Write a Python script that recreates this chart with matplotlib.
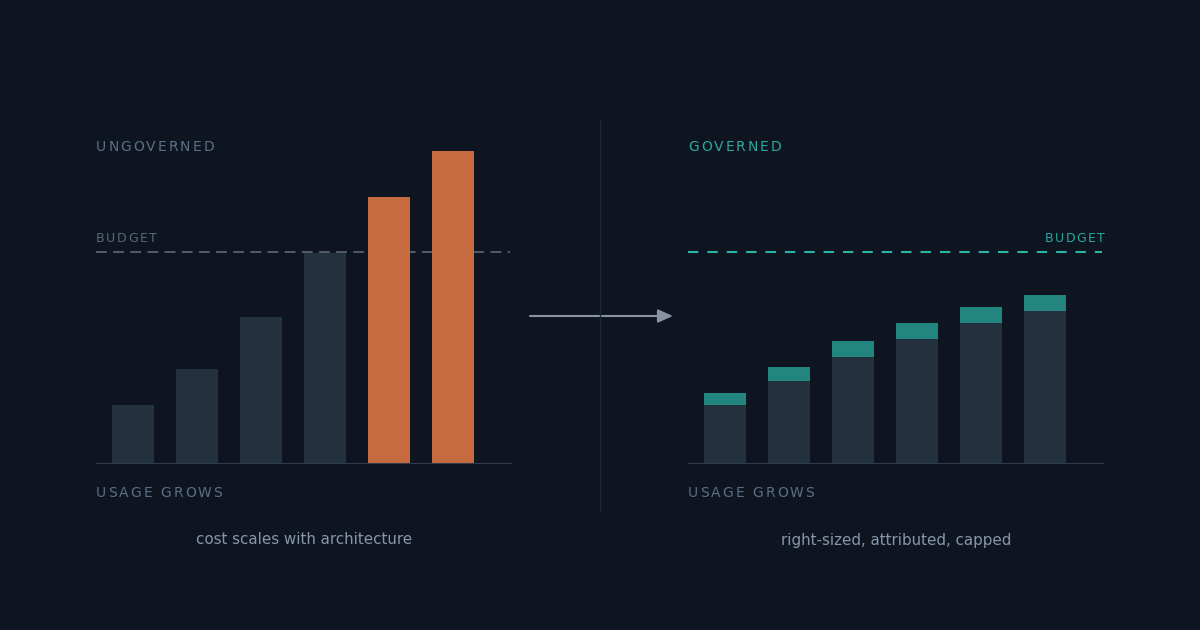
import matplotlib.pyplot as plt
from matplotlib.patches import FancyArrowPatch
from matplotlib.lines import Line2D
from matplotlib.font_manager import FontProperties, findfont, get_font

# data (cost units, one per usage step)
steps = [0, 1, 2, 3, 4, 5]
ungoverned = [59, 95, 147, 211, 267, 313]
over_budget = [False, False, False, False, True, True]
governed_base = [59, 83, 107, 125, 141, 153]
governed_cap = [12, 14, 16, 16, 16, 16]
budget = 212

BG = "#0e1520"
BAR = "#22313d"
ORANGE = "#c66a3f"
TEAL_BAR = "#22857f"
TEAL = "#2aa8a0"
GRAY_TXT = "#5a6f86"
AXIS = "#2e3d4e"

W, H = 1200, 630
fig = plt.figure(figsize=(12, 6.3), dpi=100, facecolor=BG)
font = get_font(findfont(FontProperties(family="DejaVu Sans")))


def spaced(x, y, s, size, color, spacing, ha="left"):
    # letter-spaced text, x/y in pixels from top-left
    font.set_size(size, 100)
    adv = [font.load_char(ord(ch)).linearHoriAdvance / 65536 for ch in s]
    total = sum(adv) + spacing * (len(s) - 1)
    cx = x if ha == "left" else x - total
    for ch, a in zip(s, adv):
        fig.text(cx / W, 1 - y / H, ch, fontsize=size, color=color,
                 va="center", ha="left")
        cx += a + spacing


def panel(left_px):
    ax = fig.add_axes([left_px / W, (H - 463.6) / H, 416 / W, 343 / H])
    ax.set_facecolor("none")
    ax.set_xlim(-37 / 64, -37 / 64 + 6.5)
    ax.set_ylim(0, 343)
    ax.axis("off")
    ax.axhline(0, color=AXIS, lw=1.5, zorder=5)
    return ax


# left: ungoverned
axl = panel(96)
cols = [ORANGE if o else BAR for o in over_budget]
axl.bar(steps, ungoverned, width=42 / 64, color=cols, zorder=3)
axl.add_line(Line2D([-37 / 64, -37 / 64 + 6.47], [budget, budget], color="#56626f",
                    lw=1.3, ls=(0, (6, 3.5)), zorder=2))

# right: governed
axr = panel(688)
axr.bar(steps, governed_base, width=42 / 64, color=BAR, zorder=3)
axr.bar(steps, governed_cap, bottom=governed_base, width=42 / 64, color=TEAL_BAR, zorder=3)
axr.add_line(Line2D([-37 / 64, -37 / 64 + 6.47], [budget, budget], color="#2bb3a6",
                    lw=1.5, ls=(0, (5, 4.3)), zorder=2))

# divider and arrow
fig.add_artist(Line2D([600 / W, 600 / W], [1 - 120 / H, 1 - 511 / H], color="#1c2733", lw=1))
fig.add_artist(FancyArrowPatch((530 / W, 1 - 316 / H), (673 / W, 1 - 316 / H),
                               transform=fig.transFigure, arrowstyle="-|>,head_length=0.9,head_width=0.4",
                               mutation_scale=10, color="#8892a1", lw=1.5, shrinkA=0, shrinkB=0))

# labels
spaced(96, 147, "UNGOVERNED", 10, GRAY_TXT, 2.0)
spaced(96, 239, "BUDGET", 9, "#56687a", 1.6)
spaced(96, 493, "USAGE GROWS", 10, GRAY_TXT, 2.0)
spaced(688, 147, "GOVERNED", 10, TEAL, 2.0)
spaced(1105, 239, "BUDGET", 9, TEAL, 1.6, ha="right")
spaced(688, 493, "USAGE GROWS", 10, GRAY_TXT, 2.0)

fig.text(304 / W, 1 - 540 / H, "cost scales with architecture", fontsize=10.9,
         color="#8596ab", ha="center", va="center")
fig.text(896 / W, 1 - 540 / H, "right-sized, attributed, capped", fontsize=10.9,
         color="#8596ab", ha="center", va="center")

fig.savefig("out.png", dpi=100, facecolor=BG)
